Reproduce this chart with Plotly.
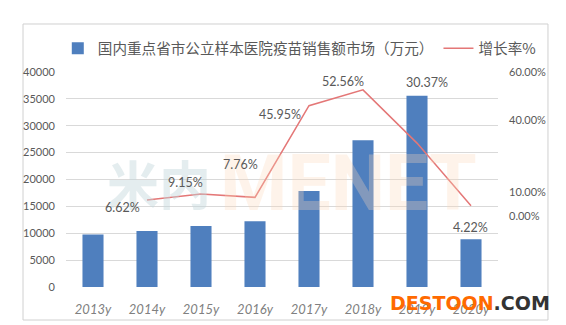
import plotly.graph_objects as go

# Annual vaccine sales in sampled public hospitals of key provinces/cities (10k CNY)
years = ["2013y", "2014y", "2015y", "2016y", "2017y", "2018y", "2019y", "2020y"]
sales = [9750, 10400, 11350, 12230, 17850, 27300, 35600, 8900]

# Year-on-year growth (%), starting from 2014
growth_years = ["2014y", "2015y", "2016y", "2017y", "2018y", "2019y", "2020y"]
growth = [6.62, 9.15, 7.76, 45.95, 52.56, 30.37, 4.22]

# Right-axis tick values (%) and their labels
pct_ticks = [0, 10, 40, 60]
pct_labels = [f"{v:.2f}%" for v in pct_ticks]

# Pixel offsets for each growth label relative to its point
label_dx = [-25, -16, -15, -29, -20, 10, -1]
label_dy = [-7, 12, 33, -9, 8, 61, -22]

GRAY = "#595959"
NUM_FONT = "Lato, 'Noto Sans CJK SC', sans-serif"
CJK_FONT = "'Noto Sans CJK SC', Lato, sans-serif"

fig = go.Figure()

fig.add_trace(go.Bar(
    x=years, y=sales,
    name="国内重点省市公立样本医院疫苗销售额市场（万元）",
    marker=dict(color="#4f7fbe", line=dict(width=0)),
    yaxis="y",
))

fig.add_trace(go.Scatter(
    x=growth_years, y=growth,
    name="增长率%",
    mode="lines",
    line=dict(color="#e47777", width=1.5),
    yaxis="y2",
))

annotations = []

# Faint site watermark across the middle of the plot
annotations.append(dict(
    x=0.09, y=0.485, xref="paper", yref="paper", xanchor="left", yanchor="middle",
    text="<b>米内</b>", showarrow=False,
    font=dict(family="'Noto Sans CJK SC'", size=52, color="rgba(195,215,220,0.45)"),
))
annotations.append(dict(
    x=0.352, y=0.48, xref="paper", yref="paper", xanchor="left", yanchor="middle",
    text="<b>MENET</b>", showarrow=False,
    font=dict(family="Roboto", size=77, color="rgba(252,215,185,0.3)"),
))

for xv, yv, dx, dy in zip(growth_years, growth, label_dx, label_dy):
    annotations.append(dict(
        x=xv, y=yv, xref="x", yref="y2",
        text=f"{yv:.2f}%", showarrow=False,
        xshift=dx, yshift=dy,
        font=dict(family=NUM_FONT, size=12.5, color=GRAY),
    ))

# Site stamp in the lower right corner
annotations.append(dict(
    x=1.125, y=-0.075, xref="paper", yref="paper", xanchor="right", yanchor="middle",
    text="<b><span style='color:#ff6a00'>DESTOON</span>.COM</b>", showarrow=False,
    font=dict(family="'DejaVu Sans'", size=19, color="#333333"),
))

fig.update_layout(
    width=566, height=325,
    margin=dict(l=66, r=68, t=72, b=38, autoexpand=False),
    paper_bgcolor="white", plot_bgcolor="white",
    bargap=0.61,
    showlegend=True,
    legend=dict(
        orientation="h", x=-0.019, xanchor="left", y=1.11, yanchor="middle",
        font=dict(family=CJK_FONT, size=14.6, color=GRAY),
        bgcolor="rgba(0,0,0,0)", traceorder="normal",
    ),
    xaxis=dict(
        type="category", showgrid=False, showline=False, zeroline=False,
        ticks="", ticklabelstandoff=13, automargin=False,
        tickfont=dict(family="Lato, sans-serif", size=13, color="#808080", style="italic"),
    ),
    yaxis=dict(
        range=[0, 40000], dtick=5000, showgrid=True, gridcolor="#d9d9d9", gridwidth=1,
        zeroline=False, showline=False, ticks="", ticklabelstandoff=10,
        tickformat="d", automargin=False,
        tickfont=dict(family=NUM_FONT, size=11, color=GRAY),
    ),
    yaxis2=dict(
        overlaying="y", side="right", range=[-29.6, 60],
        tickmode="array", tickvals=pct_ticks, ticktext=pct_labels,
        showgrid=False, zeroline=False, showline=False, ticks="",
        ticklabelstandoff=10, automargin=False,
        tickfont=dict(family=NUM_FONT, size=11, color=GRAY),
    ),
    annotations=annotations,
    shapes=[dict(
        type="rect", xref="paper", yref="paper",
        x0=-0.0995, x1=1.1157, y0=-0.1535, y1=1.2233,
        line=dict(color="#d0d0d0", width=1), fillcolor="rgba(0,0,0,0)",
        layer="below",
    )],
)

fig.write_html("out.html")
